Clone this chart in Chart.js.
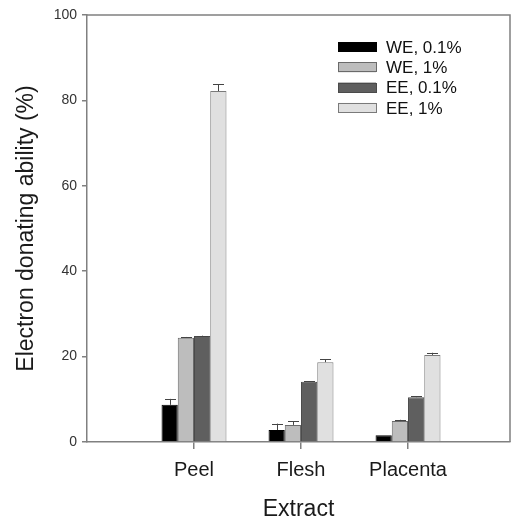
<!DOCTYPE html>
<html>
<head>
<meta charset="utf-8">
<script src="https://cdn.jsdelivr.net/npm/chart.js@4.4.1/dist/chart.umd.min.js"></script>
<style>
  html, body { margin: 0; padding: 0; background: #fff; }
  #wrap { width: 515px; height: 521px; position: relative; }
</style>
</head>
<body>
<div id="wrap"><canvas id="chart"></canvas></div>
<script>
const categories = ['Peel', 'Flesh', 'Placenta']
const seriesLabels = ['WE, 0.1%', 'WE, 1%', 'EE, 0.1%', 'EE, 1%']
const we01 = [8.7, 2.8, 1.6]
const we01Err = [1.4, 1.5, 0]
const we1 = [24.4, 4.0, 4.9]
const we1Err = [0.2, 0.9, 0.3]
const ee01 = [24.8, 14.1, 10.5]
const ee01Err = [0.1, 0.1, 0.2]
const ee1 = [82.2, 18.7, 20.4]
const ee1Err = [1.6, 0.7, 0.5]
const yTicks = [0, 20, 40, 60, 80, 100]

const fills = ['#000000', '#bdbdbd', '#5f5f5f', '#e0e0e0']
const borders = ['#000000', '#6a6a6a', '#4a4a4a', '#7a7a7a']
const values = [we01, we1, ee01, ee1]
const errors = [we01Err, we1Err, ee01Err, ee1Err]
const font = 'Liberation Sans, Arial, sans-serif'

const datasets = values.map((vals, i) => ({
    label: seriesLabels[i],
    data: vals.map((v, j) => ({x: j + 1, y: v})),
    err: errors[i],
    backgroundColor: fills[i],
    borderColor: borders[i],
    borderWidth: 1,
    borderSkipped: 'bottom',
    categoryPercentage: 0.607,
    barPercentage: 1.0
}))

// error bars (upper only), frame and legend
const extras = {
    id: 'extras',
    afterDatasetsDraw(chart){
        const ctx = chart.ctx
        const y = chart.scales.y
        ctx.save()
        ctx.strokeStyle = '#444'
        ctx.lineWidth = 1
        chart.data.datasets.forEach((ds, i) => {
            const meta = chart.getDatasetMeta(i)
            meta.data.forEach((bar, j) => {
                const e = ds.err[j]
                if(!e) return
                const top = y.getPixelForValue(ds.data[j].y + e)
                const cx = Math.round(bar.x) + 0.5
                ctx.beginPath()
                ctx.moveTo(cx, bar.y)
                ctx.lineTo(cx, top)
                ctx.moveTo(cx - 5.5, Math.round(top) + 0.5)
                ctx.lineTo(cx + 5.5, Math.round(top) + 0.5)
                ctx.stroke()
            })
        })
        ctx.restore()
    },
    afterDraw(chart){
        const ctx = chart.ctx
        const a = chart.chartArea
        ctx.save()
        ctx.strokeStyle = '#808080'
        ctx.lineWidth = 1.5
        ctx.beginPath()
        ctx.moveTo(a.left, a.top)
        ctx.lineTo(a.right, a.top)
        ctx.lineTo(a.right, a.bottom)
        ctx.stroke()
        // legend
        ctx.font = '17px ' + font
        ctx.textBaseline = 'middle'
        chart.data.datasets.forEach((ds, i) => {
            const cy = 47 + i * 20.3
            ctx.fillStyle = ds.backgroundColor
            ctx.fillRect(338, cy - 5, 38, 10)
            ctx.strokeStyle = ds.borderColor
            ctx.lineWidth = 1
            ctx.strokeRect(338.5, Math.round(cy - 5) + 0.5, 38, 9)
            ctx.fillStyle = '#111'
            ctx.fillText(ds.label, 386, cy + 1)
        })
        ctx.restore()
    }
}

new Chart(document.getElementById('chart'), {
    type: 'bar',
    data: {datasets},
    plugins: [extras],
    options: {
        responsive: true,
        maintainAspectRatio: false,
        animation: false,
        layout: {padding: {left: 0, top: 15, right: 5, bottom: 0}},
        plugins: {legend: {display: false}, tooltip: {enabled: false}},
        scales: {
            x: {
                type: 'linear',
                min: 0,
                max: 3.953,
                offset: false,
                afterFit: s => { s.height = 79 },
                afterBuildTicks: s => { s.ticks = categories.map((c, i) => ({value: i + 1})) },
                border: {color: '#808080', width: 1.5},
                grid: {offset: false, drawOnChartArea: false, drawTicks: true, tickLength: 7, color: '#808080', lineWidth: 1.5},
                ticks: {
                    padding: 9,
                    color: '#1a1a1a',
                    font: {family: font, size: 20},
                    callback: v => categories[v - 1]
                },
                title: {display: true, text: 'Extract', color: '#1a1a1a', font: {family: font, size: 23, lineHeight: 1}, padding: {top: 0, bottom: 0}}
            },
            y: {
                min: 0,
                max: 100,
                afterFit: s => { s.width = 87 },
                afterBuildTicks: s => { s.ticks = yTicks.map(v => ({value: v})) },
                border: {color: '#808080', width: 1.5},
                grid: {drawOnChartArea: false, drawTicks: true, tickLength: 5, color: '#808080', lineWidth: 1.5},
                ticks: {padding: 5, color: '#333', font: {family: font, size: 14}},
                title: {display: true, text: 'Electron donating ability (%)', color: '#1a1a1a', font: {family: font, size: 23, lineHeight: 1}, padding: {top: 15, bottom: 0}}
            }
        }
    }
})
</script>
</body>
</html>
